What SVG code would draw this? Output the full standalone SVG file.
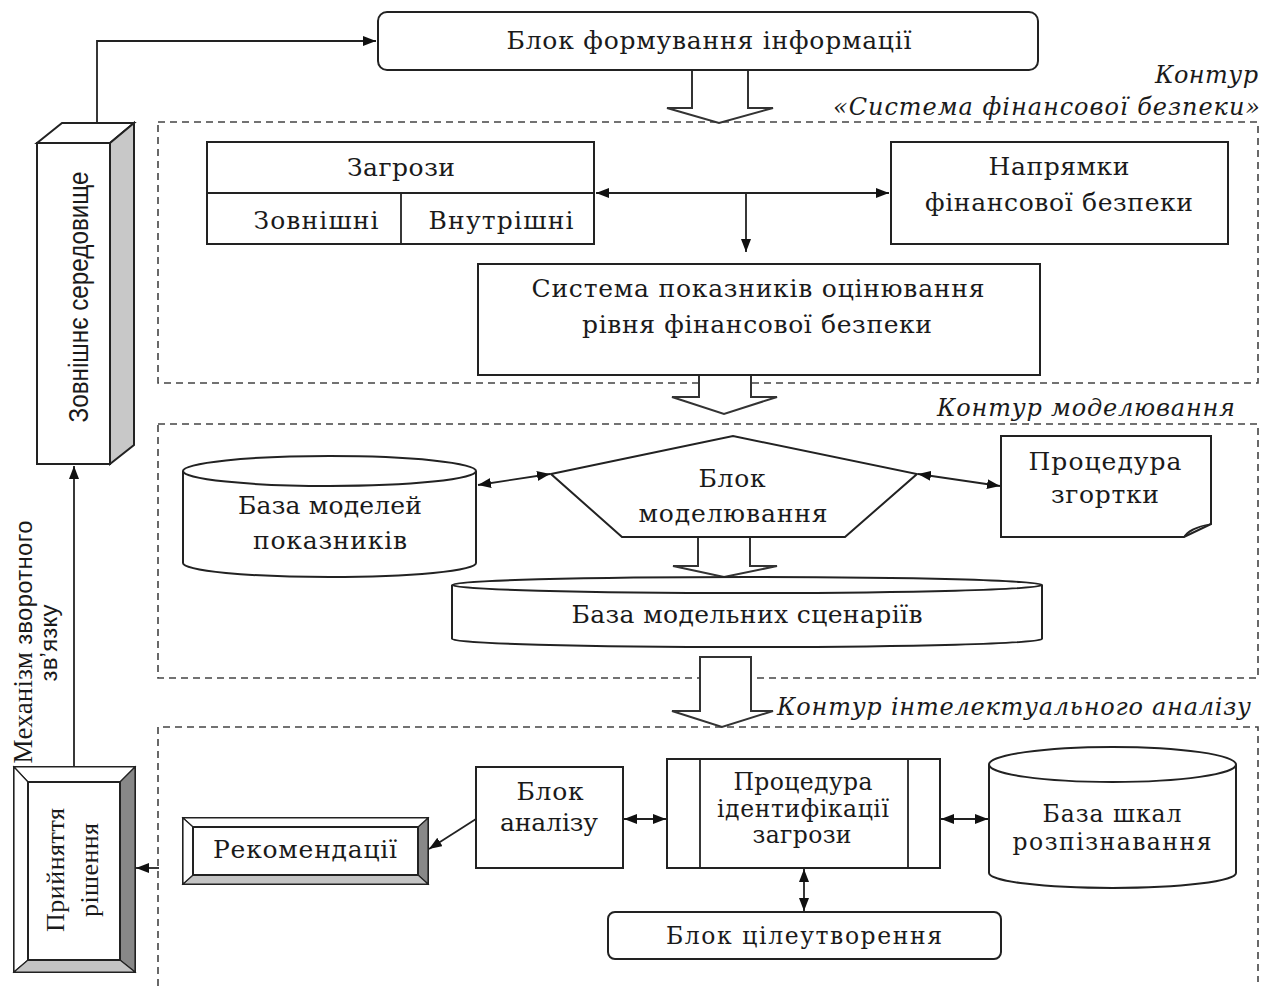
<svg xmlns="http://www.w3.org/2000/svg" width="1271" height="986" viewBox="0 0 1271 986">
<defs>
<style>
.t{font-family:"DejaVu Serif","Liberation Serif",serif;font-size:25px;fill:#1a1a1a;text-anchor:middle}
.ts{font-size:23.5px}
.it{font-family:"DejaVu Serif","Liberation Serif",serif;font-style:italic;font-size:24px;fill:#1a1a1a;text-anchor:end}
.ln{stroke:#222;stroke-width:1.8;fill:none}
.box{fill:#fff;stroke:#222;stroke-width:2}
.dash{fill:none;stroke:#444;stroke-width:1.6;stroke-dasharray:7 5}
.blk{fill:#fff;stroke:#333;stroke-width:2;stroke-linejoin:miter}
</style>
<marker id="ah" viewBox="0 0 13 10" refX="13" refY="5" markerWidth="13" markerHeight="10" markerUnits="userSpaceOnUse" orient="auto-start-reverse">
<path d="M0,0 L13,5 L0,10 z" fill="#111"/>
</marker>
</defs>
<rect width="1271" height="986" fill="#fff"/>

<g id="contours">
<rect class="dash" x="158" y="122" width="1100" height="261"/>
<rect class="dash" x="158" y="424" width="1100" height="254"/>
<path class="dash" d="M158,986 V727 H1258 V982"/>
<text class="it" x="1258" y="83" textLength="103">Контур</text>
<text class="it" x="1260" y="115" textLength="427">«Система фінансової безпеки»</text>
<text class="it" x="1235" y="416" textLength="298">Контур моделювання</text>
<text class="it" x="1251" y="715" textLength="474">Контур інтелектуального аналізу</text>
</g>

<g id="connectors">
<path class="ln" d="M97,123 V41 H376" marker-end="url(#ah)"/>
<path class="ln" d="M596,193 H889" marker-start="url(#ah)" marker-end="url(#ah)"/>
<path class="ln" d="M746,193 V252" marker-end="url(#ah)"/>
<path class="ln" d="M478,485 L550,474" marker-start="url(#ah)" marker-end="url(#ah)"/>
<path class="ln" d="M918,474 L1000,486" marker-start="url(#ah)" marker-end="url(#ah)"/>
<path class="ln" d="M476,819 L429,849" marker-end="url(#ah)"/>
<path class="ln" d="M624,819 H666" marker-start="url(#ah)" marker-end="url(#ah)"/>
<path class="ln" d="M941,819 H988" marker-start="url(#ah)" marker-end="url(#ah)"/>
<path class="ln" d="M804,869 V911" marker-start="url(#ah)" marker-end="url(#ah)"/>
<path class="ln" d="M74,767 V466" marker-end="url(#ah)"/>
<path class="ln" d="M159,868 H136" marker-end="url(#ah)"/>
<polygon class="blk" points="692,70 748,70 748,108 773,108 719,123 667,108 692,108"/>
<polygon class="blk" points="699,375 751,375 751,397 777,397 724,414 672,397 699,397"/>
<polygon class="blk" points="698,537 750,537 750,566 777,566 724,577 673,566 698,566"/>
<polygon class="blk" points="700,657 751,657 751,711 773,711 722,727 672,711 700,711"/>
</g>

<g id="info-block">
<rect class="box" x="378" y="12" width="660" height="58" rx="9"/>
<text class="t" x="709" y="49" textLength="405">Блок формування інформації</text>
</g>

<g id="zovnishnie">
<rect class="box" x="37" y="143" width="73" height="321"/>
<polygon class="box" points="37,143 62,123 134,123 110,143"/>
<polygon points="110,143 134,123 134,445 110,464" fill="#c8c8c8" stroke="#222" stroke-width="2"/>
<text x="88" y="297" transform="rotate(-90 88 297)" font-family="Liberation Sans, Arial, sans-serif" font-size="27" fill="#1a1a1a" text-anchor="middle" textLength="251" lengthAdjust="spacingAndGlyphs">Зовнішнє середовище</text>
</g>

<g id="zagrozy">
<rect class="box" x="207" y="142" width="387" height="102"/>
<line class="ln" x1="207" y1="193" x2="594" y2="193" stroke-width="2"/>
<line class="ln" x1="401" y1="193" x2="401" y2="244" stroke-width="2"/>
<text class="t" x="401" y="176" textLength="108">Загрози</text>
<text class="t" x="316" y="229" textLength="125">Зовнішні</text>
<text class="t" x="501" y="229" textLength="145">Внутрішні</text>
</g>

<g id="napryamky">
<rect class="box" x="891" y="142" width="337" height="102"/>
<text class="t" x="1059" y="175" textLength="141">Напрямки</text>
<text class="t" x="1059" y="211" textLength="268">фінансової безпеки</text>
</g>

<g id="systema">
<rect class="box" x="478" y="264" width="562" height="111"/>
<text class="t" x="758" y="297" textLength="453">Система показників оцінювання</text>
<text class="t" x="757" y="333" textLength="350">рівня фінансової безпеки</text>
</g>

<g id="baza-modelei">
<path class="box" d="M183,471 V563 A146.5,14 0 0 0 476,563 V471"/>
<ellipse class="box" cx="329.5" cy="471" rx="146.5" ry="15"/>
<text class="t" x="330" y="514" textLength="184">База моделей</text>
<text class="t" x="330" y="549" textLength="154">показників</text>
</g>

<g id="blok-modeliuvannia">
<polygon class="box" points="551,474 733,436 917,474 845,537 622,537" stroke-width="1.6"/>
<text class="t" x="732" y="487" textLength="67">Блок</text>
<text class="t" x="733" y="522" textLength="189">моделювання</text>
</g>

<g id="zgortky">
<path class="box" d="M1001,436 H1211 V524 L1184,537 H1001 Z"/>
<path d="M1184,537 Q1188,528 1211,524 Q1192,528 1184,537 Z" fill="#bbb" stroke="#222" stroke-width="1.2"/>
<text class="t" x="1105" y="470" textLength="153">Процедура</text>
<text class="t" x="1105" y="503" textLength="108">згортки</text>
</g>

<g id="baza-scenariiv">
<path class="box" d="M452,585 V639 A295,8 0 0 0 1042,639 V585"/>
<ellipse class="box" cx="747" cy="585" rx="295" ry="8"/>
<text class="t" x="747" y="623" textLength="351">База модельних сценаріїв</text>
</g>

<g id="rekomendatsii">
<rect class="box" x="183" y="818" width="245" height="66"/>
<polygon points="428,818 428,884 418,875 418,827" fill="#888" stroke="#222" stroke-width="1.2"/>
<polygon points="183,884 428,884 418,875 193,875" fill="#c4c4c4" stroke="#222" stroke-width="1.2"/>
<polygon points="183,818 428,818 418,827 193,827" fill="#fff" stroke="#222" stroke-width="1.2"/>
<polygon points="183,818 193,827 193,875 183,884" fill="#fff" stroke="#222" stroke-width="1.2"/>
<rect x="193" y="827" width="225" height="48" fill="#fff" stroke="#222" stroke-width="2"/>
<text class="t" x="305" y="858" textLength="184">Рекомендації</text>
</g>

<g id="blok-analizu">
<rect class="box" x="476" y="767" width="147" height="101"/>
<text class="t" x="550" y="800" textLength="67">Блок</text>
<text class="t" x="549" y="831" textLength="98">аналізу</text>
</g>

<g id="identyfikatsiia">
<rect class="box" x="667" y="759" width="273" height="109"/>
<line class="ln" x1="700" y1="759" x2="700" y2="868" stroke-width="2"/>
<line class="ln" x1="908" y1="759" x2="908" y2="868" stroke-width="2"/>
<text class="t ts" x="803" y="790" textLength="139">Процедура</text>
<text class="t ts" x="803" y="817" textLength="172">ідентифікації</text>
<text class="t ts" x="802" y="843" textLength="99">загрози</text>
</g>

<g id="baza-shkal">
<path class="box" d="M989,764.5 V873 A123.5,15 0 0 0 1236,873 V764.5"/>
<ellipse class="box" cx="1112.5" cy="764.5" rx="123.5" ry="17.5"/>
<text class="t ts" x="1112" y="822" textLength="139">База шкал</text>
<text class="t ts" x="1112" y="850" textLength="199">розпізнавання</text>
</g>

<g id="tsileutvorennia">
<rect class="box" x="608" y="912" width="393" height="47" rx="7"/>
<text class="t ts" x="804" y="944" textLength="276">Блок цілеутворення</text>
</g>

<g id="pryiniattia">
<rect class="box" x="14" y="767" width="121" height="205"/>
<polygon points="14,767 135,767 120,782 28,782" fill="#fff" stroke="#222" stroke-width="1.2"/>
<polygon points="14,767 28,782 28,960 14,972" fill="#fff" stroke="#222" stroke-width="1.2"/>
<polygon points="135,767 135,972 120,960 120,782" fill="#888" stroke="#222" stroke-width="1.2"/>
<polygon points="14,972 135,972 120,960 28,960" fill="#c4c4c4" stroke="#222" stroke-width="1.2"/>
<rect x="28" y="782" width="92" height="178" fill="#fff" stroke="#222" stroke-width="2"/>
<text x="64" y="870" transform="rotate(-90 64 870)" font-family="Liberation Serif, Times New Roman, serif" font-size="26" fill="#1a1a1a" text-anchor="middle" textLength="124">Прийняття</text>
<text x="98" y="870" transform="rotate(-90 98 870)" font-family="Liberation Serif, Times New Roman, serif" font-size="26" fill="#1a1a1a" text-anchor="middle" textLength="94">рішення</text>
</g>

<g id="mekhanizm">
<text x="32" y="642" transform="rotate(-90 32 642)" font-family="Liberation Serif, Times New Roman, serif" font-size="27" fill="#1a1a1a" text-anchor="middle" textLength="243">Механізм <tspan font-family="Liberation Sans, Arial, sans-serif" font-size="24">зворотного</tspan></text>
<text x="57" y="643" transform="rotate(-90 57 643)" font-family="Liberation Sans, Arial, sans-serif" font-size="24" fill="#1a1a1a" text-anchor="middle" textLength="77">зв’язку</text>
</g>
</svg>
